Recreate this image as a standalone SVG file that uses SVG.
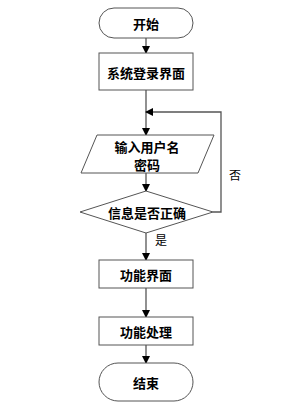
<svg xmlns="http://www.w3.org/2000/svg" width="292" height="410" viewBox="0 0 292 410">
<style>
.s{fill:#fff;stroke:#555;stroke-width:1}
.t{font-family:"Noto Sans CJK SC","Liberation Sans",sans-serif;font-size:13px;font-weight:bold;fill:#000;text-anchor:middle;dominant-baseline:central}
.l{font-family:"Noto Sans CJK SC","Liberation Sans",sans-serif;font-size:12px;fill:#000;text-anchor:middle;dominant-baseline:central}
.c{fill:none;stroke:#555;stroke-width:1.3}
</style>
<defs>
<marker id="a" markerWidth="8" markerHeight="8" refX="7" refY="4" orient="auto" markerUnits="userSpaceOnUse">
<path d="M0,0 L8,4 L0,8 z" fill="#000"/>
</marker>
</defs>
<rect width="292" height="410" fill="#fff"/>
<g id="connectors">
<line class="c" x1="146" y1="38" x2="146" y2="53" marker-end="url(#a)"/>
<line class="c" x1="146" y1="90" x2="146" y2="135" marker-end="url(#a)"/>
<line class="c" x1="146" y1="173" x2="146" y2="191" marker-end="url(#a)"/>
<polyline class="c" points="213,212 221,212 221,112 146,112" marker-end="url(#a)"/>
<line class="c" x1="146" y1="233" x2="146" y2="260" marker-end="url(#a)"/>
<line class="c" x1="146" y1="288" x2="146" y2="317" marker-end="url(#a)"/>
<line class="c" x1="146" y1="345" x2="146" y2="363" marker-end="url(#a)"/>
<text class="l" x="235" y="174">否</text>
<text class="l" x="161" y="239">是</text>
</g>
<g id="start">
<rect class="s" x="99" y="8" width="94" height="30" rx="15"/>
<text class="t" x="146" y="23">开始</text>
</g>
<g id="login">
<rect class="s" x="99" y="53" width="94" height="37"/>
<text class="t" x="146" y="72">系统登录界面</text>
</g>
<g id="input">
<polygon class="s" points="97,135 214,135 198,173 81,173"/>
<text class="t" x="147" y="146">输入用户名</text>
<text class="t" x="147" y="164">密码</text>
</g>
<g id="check">
<polygon class="s" points="146,191 213,212 146,233 80,212"/>
<text class="t" x="147" y="212">信息是否正确</text>
</g>
<g id="func">
<rect class="s" x="99" y="260" width="94" height="28"/>
<text class="t" x="146" y="274">功能界面</text>
</g>
<g id="proc">
<rect class="s" x="99" y="317" width="94" height="28"/>
<text class="t" x="146" y="331">功能处理</text>
</g>
<g id="end">
<rect class="s" x="99" y="363" width="94" height="38" rx="19"/>
<text class="t" x="146" y="382">结束</text>
</g>
</svg>
